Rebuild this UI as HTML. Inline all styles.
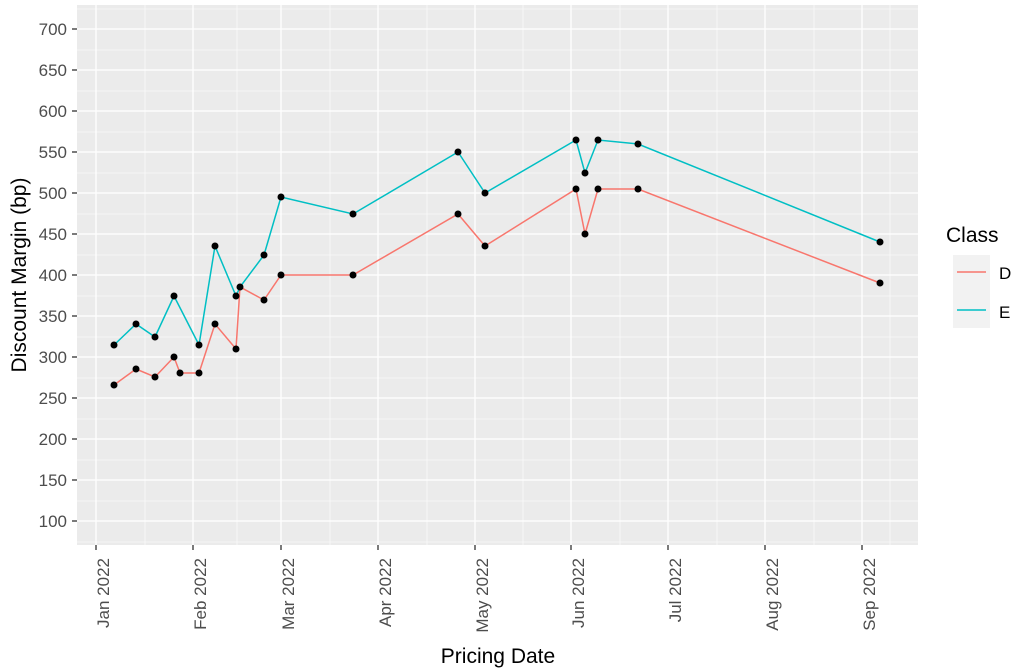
<!DOCTYPE html>
<html><head><meta charset="utf-8"><style>body{margin:0;background:#fff}svg{display:block;font-family:"Liberation Sans",Arial,sans-serif}</style></head><body>
<svg width="1024" height="671" viewBox="0 0 1024 671" xmlns="http://www.w3.org/2000/svg">
<rect x="77" y="5" width="841" height="540" fill="#ebebeb"/>
<g stroke="#fff" stroke-width="0.6">
<line x1="77" x2="918" y1="50" y2="50"/><line x1="77" x2="918" y1="91" y2="91"/><line x1="77" x2="918" y1="132" y2="132"/><line x1="77" x2="918" y1="173" y2="173"/><line x1="77" x2="918" y1="214" y2="214"/><line x1="77" x2="918" y1="255" y2="255"/><line x1="77" x2="918" y1="296" y2="296"/><line x1="77" x2="918" y1="337" y2="337"/><line x1="77" x2="918" y1="378" y2="378"/><line x1="77" x2="918" y1="419" y2="419"/><line x1="77" x2="918" y1="460" y2="460"/><line x1="77" x2="918" y1="501" y2="501"/><line x1="77" x2="918" y1="9" y2="9"/><line x1="77" x2="918" y1="542" y2="542"/>
<line y1="5" y2="545" x1="145" x2="145"/><line y1="5" y2="545" x1="237" x2="237"/><line y1="5" y2="545" x1="330" x2="330"/><line y1="5" y2="545" x1="427" x2="427"/><line y1="5" y2="545" x1="523" x2="523"/><line y1="5" y2="545" x1="620" x2="620"/><line y1="5" y2="545" x1="717" x2="717"/><line y1="5" y2="545" x1="814" x2="814"/><line y1="5" y2="545" x1="890" x2="890"/>
</g>
<g stroke="#fff" stroke-width="1.3">
<line x1="77" x2="918" y1="29" y2="29"/><line x1="77" x2="918" y1="70" y2="70"/><line x1="77" x2="918" y1="111" y2="111"/><line x1="77" x2="918" y1="152" y2="152"/><line x1="77" x2="918" y1="193" y2="193"/><line x1="77" x2="918" y1="234" y2="234"/><line x1="77" x2="918" y1="275" y2="275"/><line x1="77" x2="918" y1="316" y2="316"/><line x1="77" x2="918" y1="357" y2="357"/><line x1="77" x2="918" y1="398" y2="398"/><line x1="77" x2="918" y1="439" y2="439"/><line x1="77" x2="918" y1="480" y2="480"/><line x1="77" x2="918" y1="521" y2="521"/>
<line y1="5" y2="545" x1="96" x2="96"/><line y1="5" y2="545" x1="193" x2="193"/><line y1="5" y2="545" x1="281" x2="281"/><line y1="5" y2="545" x1="378" x2="378"/><line y1="5" y2="545" x1="475" x2="475"/><line y1="5" y2="545" x1="571" x2="571"/><line y1="5" y2="545" x1="668" x2="668"/><line y1="5" y2="545" x1="765" x2="765"/><line y1="5" y2="545" x1="862" x2="862"/>
</g>
<g stroke="#333" stroke-width="1.3">
<line x1="72" x2="77" y1="29" y2="29"/><line x1="72" x2="77" y1="70" y2="70"/><line x1="72" x2="77" y1="111" y2="111"/><line x1="72" x2="77" y1="152" y2="152"/><line x1="72" x2="77" y1="193" y2="193"/><line x1="72" x2="77" y1="234" y2="234"/><line x1="72" x2="77" y1="275" y2="275"/><line x1="72" x2="77" y1="316" y2="316"/><line x1="72" x2="77" y1="357" y2="357"/><line x1="72" x2="77" y1="398" y2="398"/><line x1="72" x2="77" y1="439" y2="439"/><line x1="72" x2="77" y1="480" y2="480"/><line x1="72" x2="77" y1="521" y2="521"/>
<line y1="545" y2="550" x1="96" x2="96"/><line y1="545" y2="550" x1="193" x2="193"/><line y1="545" y2="550" x1="281" x2="281"/><line y1="545" y2="550" x1="378" x2="378"/><line y1="545" y2="550" x1="475" x2="475"/><line y1="545" y2="550" x1="571" x2="571"/><line y1="545" y2="550" x1="668" x2="668"/><line y1="545" y2="550" x1="765" x2="765"/><line y1="545" y2="550" x1="862" x2="862"/>
</g>
<g font-size="17" fill="#4d4d4d" text-anchor="end">
<text x="67" y="35">700</text><text x="67" y="76">650</text><text x="67" y="117">600</text><text x="67" y="158">550</text><text x="67" y="199">500</text><text x="67" y="240">450</text><text x="67" y="281">400</text><text x="67" y="322">350</text><text x="67" y="363">300</text><text x="67" y="404">250</text><text x="67" y="445">200</text><text x="67" y="486">150</text><text x="67" y="527">100</text>
</g>
<g font-size="17" fill="#4d4d4d" text-anchor="end">
<text transform="translate(109,558) rotate(-90)">Jan 2022</text>
<text transform="translate(206,558) rotate(-90)">Feb 2022</text>
<text transform="translate(294,558) rotate(-90)">Mar 2022</text>
<text transform="translate(391,558) rotate(-90)">Apr 2022</text>
<text transform="translate(488,558) rotate(-90)">May 2022</text>
<text transform="translate(584,558) rotate(-90)">Jun 2022</text>
<text transform="translate(681,558) rotate(-90)">Jul 2022</text>
<text transform="translate(778,558) rotate(-90)">Aug 2022</text>
<text transform="translate(875,558) rotate(-90)">Sep 2022</text>
</g>
<text x="498" y="663" font-size="21" text-anchor="middle" fill="#000">Pricing Date</text>
<text transform="translate(26,275) rotate(-90)" font-size="21" text-anchor="middle" fill="#000">Discount Margin (bp)</text>
<polyline fill="none" stroke="#f8766d" stroke-width="1.5" points="114,385 136,369 155,377 174,357 180,373 199,373 215,324 236,349 240,287 264,300 281,275 353,275 458,214 485,246 576,189 585,234 598,189 638,189 880,283"/>
<polyline fill="none" stroke="#00bfc4" stroke-width="1.5" points="114,345 136,324 155,337 174,296 199,345 215,246 236,296 240,287 264,255 281,197 353,214 458,152 485,193 576,140 585,173 598,140 638,144 880,242"/>
<g fill="#000">
<circle cx="114" cy="385" r="3.5"/><circle cx="136" cy="369" r="3.5"/><circle cx="155" cy="377" r="3.5"/><circle cx="174" cy="357" r="3.5"/><circle cx="180" cy="373" r="3.5"/><circle cx="199" cy="373" r="3.5"/><circle cx="215" cy="324" r="3.5"/><circle cx="236" cy="349" r="3.5"/><circle cx="240" cy="287" r="3.5"/><circle cx="264" cy="300" r="3.5"/><circle cx="281" cy="275" r="3.5"/><circle cx="353" cy="275" r="3.5"/><circle cx="458" cy="214" r="3.5"/><circle cx="485" cy="246" r="3.5"/><circle cx="576" cy="189" r="3.5"/><circle cx="585" cy="234" r="3.5"/><circle cx="598" cy="189" r="3.5"/><circle cx="638" cy="189" r="3.5"/><circle cx="880" cy="283" r="3.5"/>
<circle cx="114" cy="345" r="3.5"/><circle cx="136" cy="324" r="3.5"/><circle cx="155" cy="337" r="3.5"/><circle cx="174" cy="296" r="3.5"/><circle cx="199" cy="345" r="3.5"/><circle cx="215" cy="246" r="3.5"/><circle cx="236" cy="296" r="3.5"/><circle cx="264" cy="255" r="3.5"/><circle cx="281" cy="197" r="3.5"/><circle cx="353" cy="214" r="3.5"/><circle cx="458" cy="152" r="3.5"/><circle cx="485" cy="193" r="3.5"/><circle cx="576" cy="140" r="3.5"/><circle cx="585" cy="173" r="3.5"/><circle cx="598" cy="140" r="3.5"/><circle cx="638" cy="144" r="3.5"/><circle cx="880" cy="242" r="3.5"/>
</g>
<text x="946" y="242" font-size="21" fill="#000">Class</text>
<rect x="953" y="255" width="37" height="73" fill="#f2f2f2"/>
<line x1="957" x2="986" y1="272" y2="272" stroke="#f8766d" stroke-width="1.5"/>
<line x1="957" x2="986" y1="310" y2="310" stroke="#00bfc4" stroke-width="1.5"/>
<text x="999" y="279" font-size="17" fill="#000">D</text>
<text x="999" y="318" font-size="17" fill="#000">E</text>
</svg>
</body></html>
